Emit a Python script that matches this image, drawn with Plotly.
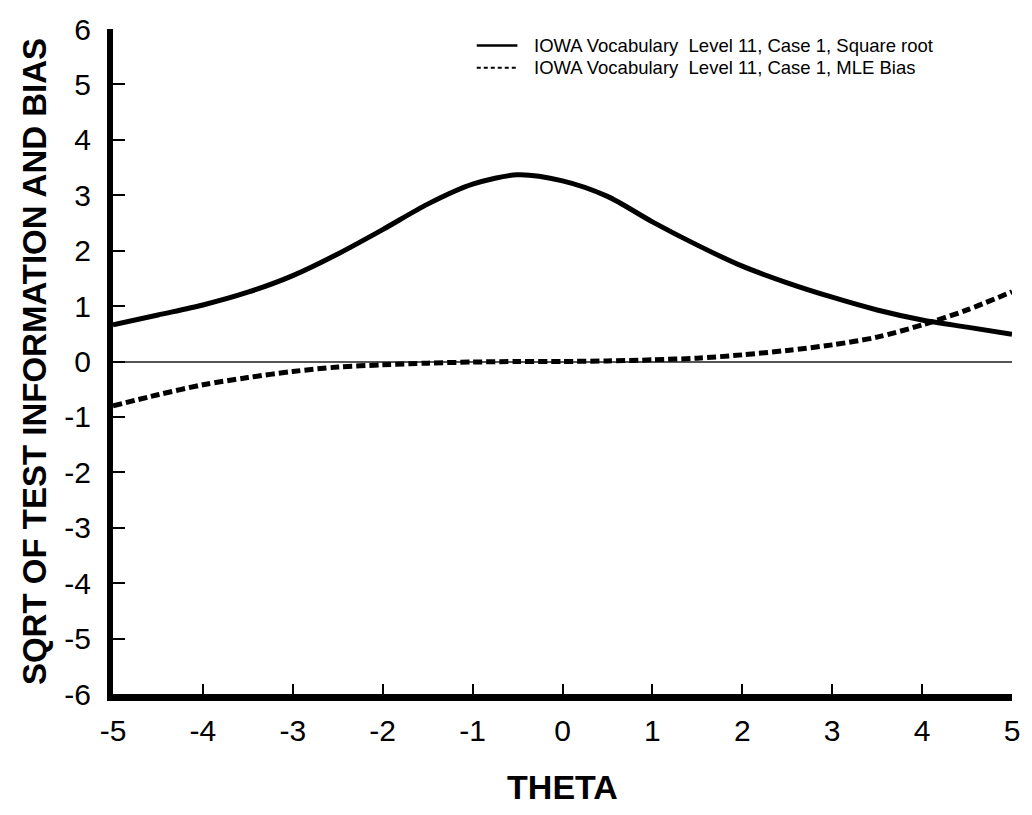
import plotly.graph_objects as go

theta = [-5, -4.5, -4, -3.5, -3, -2.5, -2, -1.5, -1, -0.5, 0, 0.5, 1, 1.5, 2, 2.5, 3, 3.5, 4, 4.5, 5]
sqrt_info = [0.66, 0.84, 1.02, 1.25, 1.55, 1.94, 2.38, 2.84, 3.2, 3.37, 3.26, 2.98, 2.52, 2.1, 1.72, 1.42, 1.16, 0.93, 0.75, 0.62, 0.49]
mle_bias = [-0.80, -0.60, -0.42, -0.29, -0.18, -0.10, -0.06, -0.03, -0.01, 0.0, 0.0, 0.01, 0.03, 0.06, 0.12, 0.20, 0.30, 0.44, 0.66, 0.93, 1.26]

series_names = ["IOWA Vocabulary  Level 11, Case 1, Square root",
                "IOWA Vocabulary  Level 11, Case 1, MLE Bias"]
x_ticks = [-5, -4, -3, -2, -1, 0, 1, 2, 3, 4, 5]
y_ticks = [-6, -5, -4, -3, -2, -1, 0, 1, 2, 3, 4, 5, 6]

FONT = "Liberation Sans, Arial, Helvetica, sans-serif"
W, H = 1032, 815
L, R, T, B = 113, 12, 21, 107
pw, ph = W - L - R, H - T - B

def px(xp):
    return (xp - L) / pw

def py(yp):
    return (H - B - yp) / ph

fig = go.Figure()
fig.add_trace(go.Scatter(x=theta, y=sqrt_info, mode="lines", name=series_names[0],
                         line=dict(color="black", width=5, shape="spline", smoothing=0.8),
                         showlegend=False))
fig.add_trace(go.Scatter(x=theta, y=mle_bias, mode="lines", name=series_names[1],
                         line=dict(color="black", width=5, dash="9px,4px", shape="spline", smoothing=0.8),
                         showlegend=False))

# manual legend (tight spacing as in reference)
leg_rows = [(38, "solid"), (61, "4px,3px")]
for (yp, dash), name in zip(leg_rows, series_names):
    fig.add_shape(type="line", xref="paper", yref="paper",
                  x0=px(480), x1=px(521), y0=py(yp), y1=py(yp),
                  line=dict(color="black", width=2.5 if dash == "solid" else 2, dash=dash))
    fig.add_annotation(xref="paper", yref="paper", x=px(537), y=py(yp),
                       xanchor="left", yanchor="middle", showarrow=False, borderpad=0,
                       text=name, font=dict(family=FONT, size=18.5, color="black"))

fig.update_layout(
    width=W, height=H,
    margin=dict(l=L, r=R, t=T, b=B),
    paper_bgcolor="white", plot_bgcolor="white",
    font=dict(family=FONT, color="black"),
    showlegend=False,
)
fig.update_xaxes(range=[-5, 5], tickvals=x_ticks, ticktext=[str(v) for v in x_ticks],
                 showgrid=False, zeroline=False,
                 showline=True, linecolor="black", linewidth=7,
                 ticks="inside", ticklen=10, tickwidth=2, tickcolor="black",
                 tickfont=dict(family=FONT, size=30, color="black"),
                 ticklabelstandoff=4,
                 title=dict(text="<b>THETA</b>", font=dict(family=FONT, size=34, color="black"), standoff=32))
fig.update_yaxes(range=[-6, 6], tickvals=y_ticks, ticktext=[str(v) for v in y_ticks],
                 showgrid=False,
                 zeroline=True, zerolinecolor="#555555", zerolinewidth=1.5,
                 showline=True, linecolor="black", linewidth=6,
                 ticks="inside", ticklen=12, tickwidth=2, tickcolor="black",
                 tickfont=dict(family=FONT, size=30, color="black"),
                 ticklabelstandoff=10,
                 title=dict(text="<b>SQRT OF TEST INFORMATION AND BIAS</b>",
                            font=dict(family=FONT, size=33, color="black"), standoff=10))

fig.write_html("out.html")
